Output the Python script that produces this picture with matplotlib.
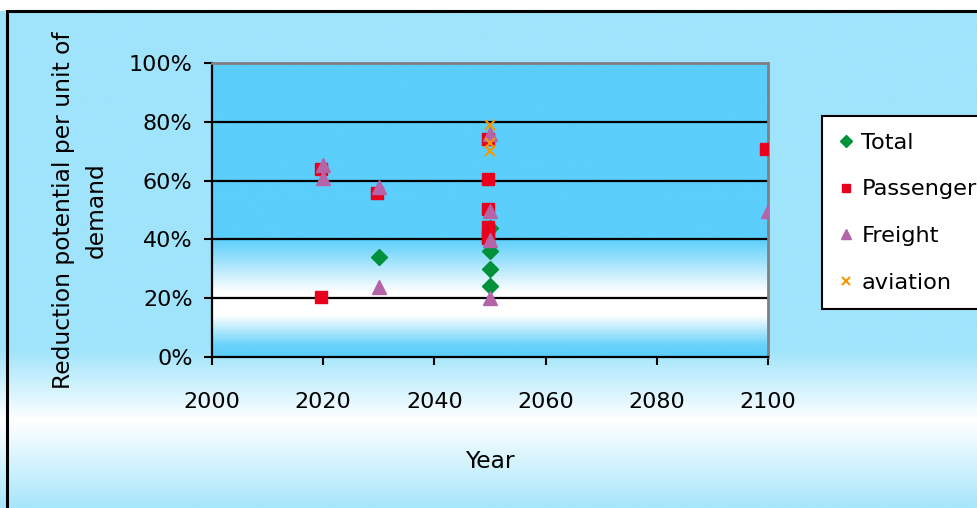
import numpy as np
import matplotlib
matplotlib.use("Agg")
import matplotlib.pyplot as plt
from matplotlib.colors import LinearSegmentedColormap
from matplotlib.patches import Rectangle
from matplotlib.ticker import FuncFormatter

# ===== data =====
total_year = [2030, 2050, 2050, 2050, 2050]
total_val = [34, 44, 36, 30, 24]

passenger_year = [2019.6, 2019.6, 2029.6, 2049.6, 2049.6, 2049.6, 2049.6, 2049.6, 2049.6, 2099.6]
passenger_val = [64, 20.5, 55.7, 74, 60.4, 50.4, 44.3, 41, 40.4, 70.7]

freight_year = [2020, 2020, 2030, 2030, 2050, 2050, 2050, 2050, 2100]
freight_val = [65.3, 61, 57.7, 23.7, 76, 49.5, 39.8, 20, 49.7]

aviation_year = [2050, 2050, 2050]
aviation_val = [79, 72.7, 70]

x_ticks = [2000, 2020, 2040, 2060, 2080, 2100]
y_ticks = [0, 20, 40, 60, 80, 100]

W, H = 977, 508
plt.rcParams['font.family'] = ['DejaVu Sans']
fig = plt.figure(figsize=(W / 100, H / 100), dpi=100)
fig.patch.set_facecolor('white')


def vgrad(stops):
    cmap = LinearSegmentedColormap.from_list('g', stops)
    return cmap(np.linspace(0, 1, 400))[:, None, :]


# --- outer background ---
bg = fig.add_axes([0, 0, 1, 1], zorder=-5)
bg.set_axis_off()
bg.set_xlim(0, 1)
bg.set_ylim(0, 1)
outer = vgrad([(0, '#A8E6FC'), (0.17, '#FFFFFF'), (0.31, '#A0E4FC'), (1, '#A0E4FC')])
bg.imshow(outer, extent=[0, 1, 0, 1], origin='lower', aspect='auto')
top_frac = 1 - 11 / H
bg.add_patch(Rectangle((0, top_frac), 1, 1 - top_frac, facecolor='white', edgecolor='none'))
bg.add_patch(Rectangle((7 / W, -0.02), 1.1, top_frac + 0.02, facecolor='none',
                       edgecolor='black', linewidth=2.2))

# --- plot area ---
x0, x1 = 212, 768
y0, y1 = 63, 357
ax = fig.add_axes([x0 / W, 1 - y1 / H, (x1 - x0) / W, (y1 - y0) / H])
inner = vgrad([(0, '#5BCEFB'), (0.04, '#6BD3FB'), (0.14, '#FFFFFF'), (0.22, '#FFFFFF'),
               (0.40, '#5BCEFB'), (1, '#5BCEFB')])
ax.imshow(inner, extent=[2000, 2100, 0, 100], origin='lower', aspect='auto', zorder=0)
ax.set_xlim(2000, 2100)
ax.set_ylim(0, 100)

for v in y_ticks[1:-1]:
    ax.axhline(v, color='black', linewidth=1.6, zorder=1)

ax.plot(total_year, total_val, linestyle='none', marker='D', markersize=8,
        color='#00913A', label='Total', zorder=3)
ax.plot(passenger_year, passenger_val, linestyle='none', marker='s', markersize=8,
        color='#E8001C', label='Passenger', zorder=3)
ax.plot(freight_year, freight_val, linestyle='none', marker='^', markersize=10,
        color='#B565A7', label='Freight', zorder=3)
ax.plot(aviation_year, aviation_val, linestyle='none', marker='x', markersize=7,
        markeredgewidth=1.5, color='#F29900', label='aviation', zorder=3)

ax.set_xticks(x_ticks)
ax.set_yticks(y_ticks)
ax.yaxis.set_major_formatter(FuncFormatter(lambda v, p: f'{v:.0f}%'))
ax.tick_params(axis='x', direction='out', length=6, width=1.5, pad=19, labelsize=16)
ax.tick_params(axis='y', direction='out', length=6, width=1.5, pad=8, labelsize=16)

for side in ['left', 'bottom']:
    ax.spines[side].set_color('black')
    ax.spines[side].set_linewidth(1.6)
for side in ['top', 'right']:
    ax.spines[side].set_color('#808080')
    ax.spines[side].set_linewidth(2)

# --- labels ---
fig.text(80 / W, 1 - 210 / H, 'Reduction potential per unit of\ndemand', rotation=90,
         ha='center', va='center', multialignment='center', fontsize=16.8, linespacing=1.5)
fig.text(490 / W, 1 - 461 / H, 'Year', ha='center', va='center', fontsize=16.8)

leg = ax.legend(loc='upper left', bbox_to_anchor=(822 / W, 1 - 116 / H),
                bbox_transform=fig.transFigure, frameon=True, fancybox=False,
                framealpha=1, edgecolor='black', fontsize=16.2, markerscale=0.75,
                handlelength=0.6, handletextpad=0.4, labelspacing=1.18,
                borderpad=0.75, borderaxespad=0)
leg.get_frame().set_linewidth(1.5)

fig.savefig('out.png', dpi=100)
